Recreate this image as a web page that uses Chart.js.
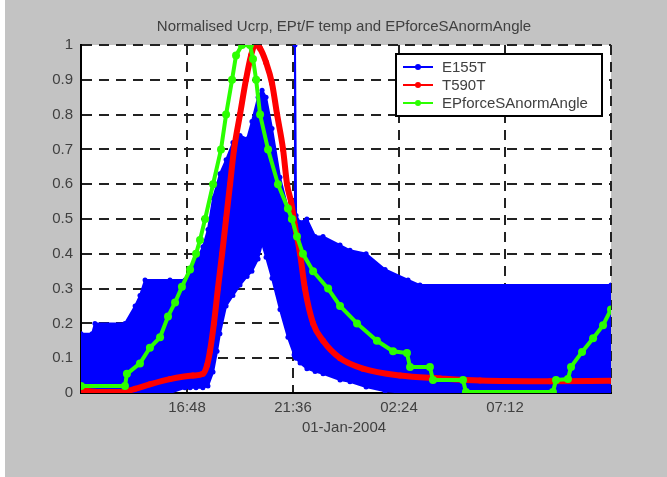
<!DOCTYPE html>
<html lang="en">
<head>
    <meta charset="UTF-8">
    <title>Normalised Ucrp, EPt/F temp and EPforceSAnormAngle</title>
    <script src="https://cdn.jsdelivr.net/npm/chart.js"></script>
    <style>
        body { margin: 0; background: #fff; }
        #wrap { width: 667px; height: 477px; }
    </style>
</head>
<body>
    <div id="wrap"><canvas id="chart" width="667" height="477"></canvas></div>

    <script>
        const chartTitle = 'Normalised Ucrp, EPt/F temp and EPforceSAnormAngle';
        const xAxisTitle = '01-Jan-2004';
        const seriesNames = ['E155T', 'T590T', 'EPforceSAnormAngle'];
        const seriesColors = ['#0000ff', '#ff0000', '#2bff00'];

        // x in hours after 12:00 on 01-Jan-2004
        const xTickHours = [0, 4.8, 9.6, 14.4, 19.2, 24];
        const xTickLabels = ['', '16:48', '21:36', '02:24', '07:12', ''];

        // E155T is a noisy band, kept as its upper and lower envelope
        const blueHours = [0, 0.50, 0.63, 1.99, 2.45, 2.67, 2.90, 4.03, 4.71, 4.94,
            5.21, 5.52, 5.75, 5.98, 6.16, 6.29, 6.57, 6.88, 7.20, 7.52,
            7.74, 8.02, 8.20, 8.38, 8.65, 9.01, 9.37, 9.65, 9.69, 9.74,
            9.92, 10.23, 10.60, 10.96, 11.73, 12.18, 12.91, 13.77, 14.81, 15.35, 24];
        const blueUpper = [0.17, 0.17, 0.20, 0.20, 0.25, 0.28, 0.325, 0.325, 0.325, 0.35,
            0.38, 0.42, 0.47, 0.56, 0.60, 0.63, 0.67, 0.72, 0.74, 0.73,
            0.78, 0.85, 0.87, 0.85, 0.76, 0.62, 0.53, 0.51, 1.00, 0.51,
            0.49, 0.50, 0.45, 0.45, 0.425, 0.41, 0.40, 0.355, 0.325, 0.31, 0.31];
        const blueLower = [0, 0, 0, 0, 0, 0, 0, 0, 0.015, 0.015,
            0.015, 0.015, 0.02, 0.06, 0.12, 0.17, 0.25, 0.28, 0.31, 0.335,
            0.35, 0.385, 0.43, 0.39, 0.33, 0.24, 0.16, 0.11, 0.105, 0.10,
            0.086, 0.07, 0.062, 0.055, 0.037, 0.032, 0.017, 0.005, 0, 0, 0];

        const redHours = [0, 0.86, 1.77, 2.45, 3.12, 4.03, 5.07, 5.52, 5.71, 5.84,
            6.02, 6.20, 6.39, 6.57, 6.75, 6.93, 7.20, 7.47, 7.70, 7.88,
            8.11, 8.38, 8.65, 8.88, 9.15, 9.33, 9.51, 9.69, 9.92, 10.14,
            10.51, 10.96, 11.73, 12.77, 14.45, 16.26, 18.07, 21.24, 24];
        const redValues = [0.008, 0.003, 0.003, 0.012, 0.025, 0.04, 0.05, 0.055, 0.08, 0.12,
            0.2, 0.3, 0.4, 0.5, 0.6, 0.7, 0.8, 0.9, 0.97, 1.0,
            0.99, 0.95, 0.89, 0.8, 0.7, 0.6, 0.55, 0.48, 0.40, 0.30,
            0.20, 0.15, 0.10, 0.07, 0.05, 0.042, 0.036, 0.034, 0.035];

        const greenHours = [0, 1.99, 2.08, 2.67, 3.12, 3.58, 3.94, 4.26, 4.57, 4.94,
            5.21, 5.39, 5.62, 5.98, 6.34, 6.57, 6.84, 7.02, 7.29, 7.65,
            7.79, 7.93, 8.11, 8.47, 8.92, 9.37, 9.55, 9.78, 10.05, 10.51,
            11.19, 11.73, 12.50, 13.40, 14.13, 14.76, 14.90, 15.80, 15.94, 17.30,
            17.43, 21.37, 21.51, 22.05, 22.19, 22.69, 23.19, 23.64, 24];
        const greenValues = [0.02, 0.02, 0.055, 0.085, 0.13, 0.16, 0.22, 0.26, 0.305, 0.355,
            0.40, 0.44, 0.50, 0.60, 0.70, 0.80, 0.90, 0.97, 1.0, 1.0,
            0.96, 0.90, 0.80, 0.70, 0.60, 0.53, 0.50, 0.45, 0.40, 0.35,
            0.30, 0.25, 0.20, 0.15, 0.12, 0.115, 0.075, 0.075, 0.037, 0.037,
            0.003, 0.003, 0.037, 0.04, 0.075, 0.118, 0.157, 0.195, 0.24];

        function toPoints(xs, ys) {
            return xs.map((x, i) => ({ x: x, y: ys[i] }));
        }

        const textColor = '#404040';
        const fontFamily = '"Liberation Sans", Arial, sans-serif';

        // figure background, white axes area, title, x label and legend box
        const matlabLook = {
            id: 'matlabLook',
            beforeDraw(chart) {
                const { ctx, chartArea: a } = chart;
                ctx.save();
                ctx.fillStyle = '#c3c3c3';
                ctx.fillRect(0, 0, chart.width, chart.height);
                ctx.fillStyle = '#ffffff';
                ctx.fillRect(0, 0, 5, chart.height);
                ctx.fillRect(a.left, a.top, a.right - a.left, a.bottom - a.top);
                ctx.restore();
            },
            afterDraw(chart) {
                const { ctx, chartArea: a } = chart;
                const cx = (a.left + a.right) / 2;
                ctx.save();
                ctx.fillStyle = textColor;
                ctx.font = '15px ' + fontFamily;
                ctx.textAlign = 'center';
                ctx.textBaseline = 'middle';
                ctx.fillText(chartTitle, cx - 2, 27);
                ctx.fillText(xAxisTitle, cx - 2, 428);

                // legend
                const lx = 396, ly = 54, lw = 206, lh = 62;
                ctx.fillStyle = '#ffffff';
                ctx.fillRect(lx, ly, lw, lh);
                ctx.strokeStyle = '#000';
                ctx.lineWidth = 2;
                ctx.strokeRect(lx, ly, lw, lh);
                ctx.textAlign = 'left';
                seriesNames.forEach((name, i) => {
                    const y = ly + 13 + i * 18;
                    ctx.strokeStyle = seriesColors[i];
                    ctx.lineWidth = 2;
                    ctx.beginPath();
                    ctx.moveTo(lx + 7, y);
                    ctx.lineTo(lx + 37, y);
                    ctx.stroke();
                    ctx.fillStyle = seriesColors[i];
                    ctx.beginPath();
                    ctx.arc(lx + 22, y, 3, 0, Math.PI * 2);
                    ctx.fill();
                    ctx.fillStyle = textColor;
                    ctx.fillText(name, lx + 46, y + 1);
                });
                ctx.restore();
            }
        };

        const ctx = document.getElementById('chart').getContext('2d');
        new Chart(ctx, {
            type: 'line',
            data: {
                datasets: [
                    {
                        label: seriesNames[2],
                        data: toPoints(greenHours, greenValues),
                        borderColor: seriesColors[2],
                        backgroundColor: seriesColors[2],
                        borderWidth: 4,
                        pointRadius: 4,
                        pointBorderWidth: 0,
                        fill: false
                    },
                    {
                        label: seriesNames[1],
                        data: toPoints(redHours, redValues),
                        borderColor: seriesColors[1],
                        backgroundColor: seriesColors[1],
                        borderWidth: 6,
                        pointRadius: 3,
                        pointBorderWidth: 0,
                        cubicInterpolationMode: 'monotone',
                        fill: false
                    },
                    {
                        label: seriesNames[0],
                        data: toPoints(blueHours, blueUpper),
                        borderColor: seriesColors[0],
                        backgroundColor: seriesColors[0],
                        borderWidth: 2,
                        pointRadius: 2.5,
                        pointBorderWidth: 0,
                        fill: '+1'
                    },
                    {
                        label: seriesNames[0] + ' lower',
                        data: toPoints(blueHours, blueLower),
                        borderColor: seriesColors[0],
                        backgroundColor: seriesColors[0],
                        borderWidth: 2,
                        pointRadius: 2.5,
                        pointBorderWidth: 0,
                        fill: false
                    }
                ]
            },
            options: {
                responsive: false,
                animation: false,
                layout: { padding: { top: 45, right: 56, left: 0, bottom: 0 } },
                plugins: {
                    legend: { display: false },
                    title: { display: false },
                    tooltip: { enabled: false }
                },
                scales: {
                    x: {
                        type: 'linear',
                        min: 0,
                        max: 24,
                        afterBuildTicks: scale => {
                            scale.ticks = xTickHours.map(v => ({ value: v }));
                        },
                        afterFit: scale => { scale.height = 84; },
                        ticks: {
                            autoSkip: false,
                            maxRotation: 0,
                            padding: 6,
                            color: textColor,
                            font: { size: 15, family: fontFamily },
                            callback: value => {
                                const i = xTickHours.indexOf(value);
                                return i >= 0 ? xTickLabels[i] : '';
                            }
                        },
                        grid: { color: '#222', lineWidth: 2, drawTicks: false },
                        border: { display: true, color: '#000', width: 2, dash: [10, 7] }
                    },
                    y: {
                        min: 0,
                        max: 1,
                        afterFit: scale => { scale.width = 81; },
                        ticks: {
                            stepSize: 0.1,
                            padding: 8,
                            color: textColor,
                            font: { size: 15, family: fontFamily },
                            callback: value => String(+value.toFixed(1))
                        },
                        grid: { color: '#222', lineWidth: 2, drawTicks: false },
                        border: { display: true, color: '#000', width: 2, dash: [10, 7] }
                    }
                }
            },
            plugins: [matlabLook]
        });
    </script>
</body>
</html>
